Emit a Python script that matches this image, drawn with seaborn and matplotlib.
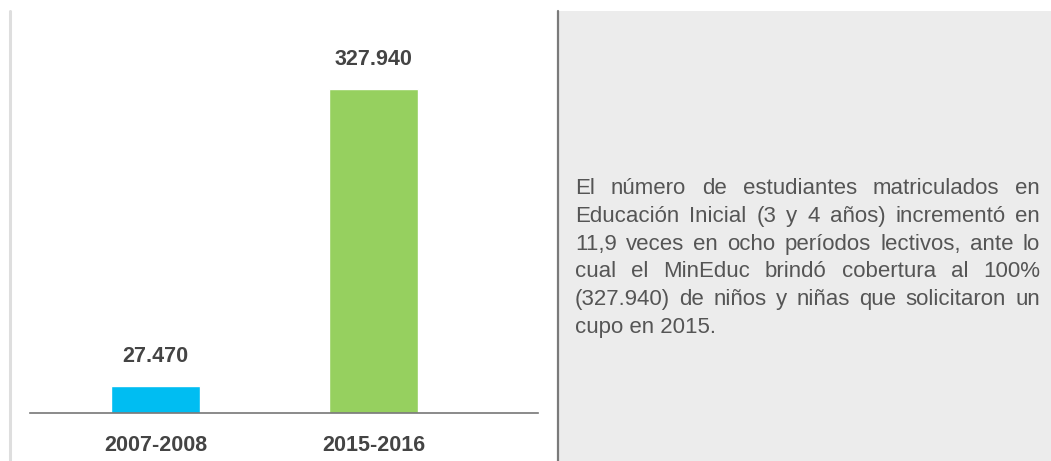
import matplotlib
matplotlib.use("Agg")
import matplotlib.pyplot as plt
import seaborn as sns
import pandas as pd

# ---------------------- DATA ----------------------
periods = ["2007-2008", "2015-2016"]
students = [27470, 327940]
bar_colors = ["#00bdf2", "#96d05f"]

note_lines = [
    "El número de estudiantes matriculados en",
    "Educación Inicial (3 y 4 años) incrementó en",
    "11,9 veces en ocho períodos lectivos, ante lo",
    "cual el MinEduc brindó cobertura al 100%",
    "(327.940) de niños y niñas que solicitaron un",
    "cupo en 2015.",
]

df = pd.DataFrame({"periodo": periods, "estudiantes": students})

# ---------------------- FIGURE ----------------------
sns.set_theme(style="white")
plt.rcParams["font.family"] = ["Liberation Sans", "DejaVu Sans"]

W, H = 1051, 461
fig = plt.figure(figsize=(W / 100, H / 100), dpi=100)
fig.patch.set_facecolor("white")

# grey side panel + borders
panel = fig.add_axes([557 / W, 0, (W - 557) / W, (H - 11) / H])
panel.set_facecolor("#ececec")
panel.set_xticks([])
panel.set_yticks([])
for s in panel.spines.values():
    s.set_visible(False)
fig.add_artist(plt.Line2D([557.5 / W] * 2, [0, (H - 11) / H], color="#7a7a7a", lw=1.6))
fig.add_artist(plt.Line2D([10 / W] * 2, [0, (H - 11) / H], color="#dedede", lw=2.2))

# ---------------------- BAR CHART ----------------------
ax = fig.add_axes([30 / W, (H - 413) / H, 508 / W, 403 / H])
sns.barplot(data=df, x="periodo", y="estudiantes", hue="periodo",
            palette=bar_colors, width=0.408, legend=False, ax=ax, saturation=1)
ax.set_xlim(-0.576, 1.755)
ax.set_ylim(0, 407900)
ax.set_xlabel("")
ax.set_ylabel("")
ax.set_yticks([])
for side in ["top", "right", "left"]:
    ax.spines[side].set_visible(False)
ax.spines["bottom"].set_color("#777777")
ax.spines["bottom"].set_linewidth(1.2)
ax.tick_params(axis="x", length=0, pad=16, labelsize=15.5, labelcolor="#444444")
for lbl in ax.get_xticklabels():
    lbl.set_fontweight("bold")
ax.patch.set_alpha(0)

for cont in ax.containers:
    ax.bar_label(cont, labels=[f"{int(v):,}".replace(",", ".") for v in cont.datavalues],
                 padding=13.5, fontsize=15.5, fontweight="bold", color="#444444")

# ---------------------- JUSTIFIED NOTE ----------------------
renderer = fig.canvas.get_renderer()
left_px, right_px = 575, 1040
first_base, line_step = 194, 27.8
note_kw = dict(fontsize=16, color="#555555", va="baseline", ha="left")

for i, line in enumerate(note_lines):
    y = (H - (first_base + i * line_step)) / H
    words = line.split(" ")
    if i == len(note_lines) - 1:
        fig.text(left_px / W, y, line, **note_kw)
        continue
    widths = []
    for w in words:
        t = fig.text(0, 0, w, **note_kw)
        widths.append(t.get_window_extent(renderer).width)
        t.remove()
    gap = (right_px - left_px - sum(widths)) / (len(words) - 1)
    x = left_px
    for w, wd in zip(words, widths):
        fig.text(x / W, y, w, **note_kw)
        x += wd + gap

fig.savefig("out.png", dpi=100)
